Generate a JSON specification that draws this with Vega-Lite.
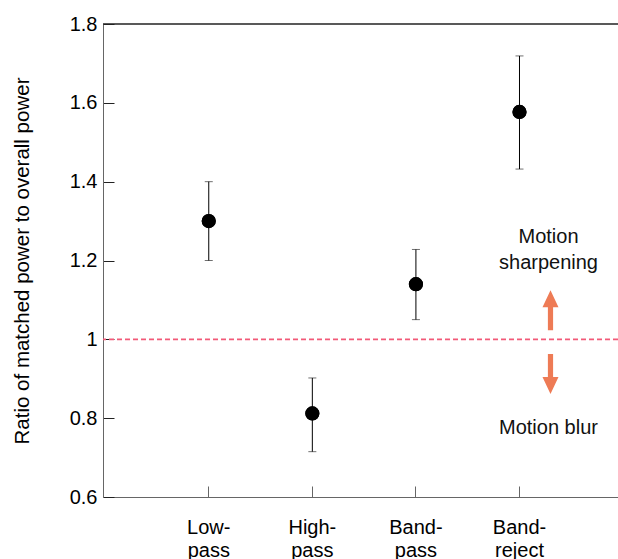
{
  "$schema": "https://vega.github.io/schema/vega-lite/v6.json",
  "width": 515,
  "height": 473,
  "autosize": {"type": "none"},
  "padding": {"left": 103, "top": 24, "right": 0, "bottom": 62},
  "config": {"view": {"stroke": null}, "font": "Liberation Sans"},
  "datasets": {
    "pts": [
      {"filter": "Low-pass", "ratio": 1.30, "lo": 1.20, "hi": 1.40},
      {"filter": "High-pass", "ratio": 0.812, "lo": 0.715, "hi": 0.902},
      {"filter": "Band-pass", "ratio": 1.14, "lo": 1.05, "hi": 1.228},
      {"filter": "Band-reject", "ratio": 1.577, "lo": 1.432, "hi": 1.719}
    ],
    "notes": [
      {"filter": "Band-reject", "y": 1.26, "text": "Motion\nsharpening"},
      {"filter": "Band-reject", "y": 0.775, "text": "Motion blur"}
    ],
    "arrows": [
      {"filter": "Band-reject", "y": 1.074, "dir": "up"},
      {"filter": "Band-reject", "y": 0.912, "dir": "down"}
    ],
    "refs": [{"level": 1}],
    "frame": [{"level": 1.8}]
  },
  "layer": [
    {
      "data": {"name": "pts"},
      "mark": {"type": "point", "filled": true, "size": 200, "color": "#000", "opacity": 1},
      "encoding": {
        "x": {
          "field": "filter", "type": "nominal", "title": null,
          "scale": {"type": "band", "domain": ["Low-pass", "High-pass", "Band-pass", "Band-reject"], "paddingInner": 0, "paddingOuter": 0.486, "align": 0.536},
          "axis": {
            "title": null, "tickSize": -11, "labelPadding": 31, "labelFontSize": 20, "labelColor": "#000",
            "labelAngle": 0, "labelBaseline": "top", "labelLineHeight": 23,
            "labelExpr": "[split(datum.label,'-')[0] + '-', split(datum.label,'-')[1]]",
            "domainColor": "#666", "tickColor": "#666", "grid": false
          }
        },
        "y": {
          "field": "ratio", "type": "quantitative", "title": "Ratio of matched power to overall power",
          "scale": {"domain": [0.6, 1.8], "nice": false, "zero": false},
          "axis": {
            "values": [0.6, 0.8, 1, 1.2, 1.4, 1.6, 1.8], "format": "~g", "tickSize": -11, "labelPadding": 17,
            "labelFontSize": 20, "labelColor": "#000", "labelFlush": false, "labelOverlap": false,
            "domainColor": "#666", "tickColor": "#222", "grid": false,
            "titleFontSize": 20.5, "titleFontWeight": "normal",
            "titleColor": "#000", "titlePadding": 37
          }
        }
      }
    },
    {
      "data": {"name": "refs"},
      "mark": {"type": "rule", "stroke": "#F25A78", "strokeDash": [5, 3], "strokeWidth": 1.6, "opacity": 1, "strokeOpacity": 1},
      "encoding": {"y": {"field": "level", "type": "quantitative", "title": "Ratio of matched power to overall power"}}
    },
    {
      "data": {"name": "frame"},
      "mark": {"type": "rule", "color": "#222", "strokeWidth": 1.3},
      "encoding": {"y": {"field": "level", "type": "quantitative", "title": "Ratio of matched power to overall power"}}
    },
    {
      "data": {"name": "pts"},
      "mark": {"type": "errorbar", "ticks": {"size": 8, "color": "#333"}, "rule": {"color": "#000", "strokeWidth": 1}},
      "encoding": {
        "x": {"field": "filter", "type": "nominal", "title": null},
        "y": {"field": "lo", "type": "quantitative", "title": "Ratio of matched power to overall power"},
        "y2": {"field": "hi"}
      }
    },
    {
      "data": {"name": "pts"},
      "mark": {"type": "point", "filled": true, "size": 200, "color": "#000", "opacity": 1},
      "encoding": {
        "x": {"field": "filter", "type": "nominal", "title": null},
        "y": {"field": "ratio", "type": "quantitative", "title": "Ratio of matched power to overall power"}
      }
    },
    {
      "data": {"name": "arrows"},
      "mark": {"type": "point", "filled": true, "size": 1600, "color": "#EE7B55", "opacity": 1, "xOffset": 31},
      "encoding": {
        "x": {"field": "filter", "type": "nominal", "title": null},
        "y": {"field": "y", "type": "quantitative", "title": "Ratio of matched power to overall power"},
        "shape": {
          "field": "dir", "type": "nominal", "legend": null,
          "scale": {"domain": ["up", "down"], "range": [
            "M-0.13,1L0.13,1L0.13,-0.15L0.4,-0.15L0,-1L-0.4,-0.15L-0.13,-0.15Z",
            "M-0.13,-1L0.13,-1L0.13,0.15L0.4,0.15L0,1L-0.4,0.15L-0.13,0.15Z"
          ]}
        }
      }
    },
    {
      "data": {"name": "notes"},
      "mark": {"type": "text", "fontSize": 20, "color": "#111", "lineBreak": "\n", "lineHeight": 26, "align": "center", "baseline": "middle", "xOffset": 29},
      "encoding": {
        "x": {"field": "filter", "type": "nominal", "title": null},
        "y": {"field": "y", "type": "quantitative", "title": "Ratio of matched power to overall power"},
        "text": {"field": "text", "type": "nominal"}
      }
    }
  ]
}
